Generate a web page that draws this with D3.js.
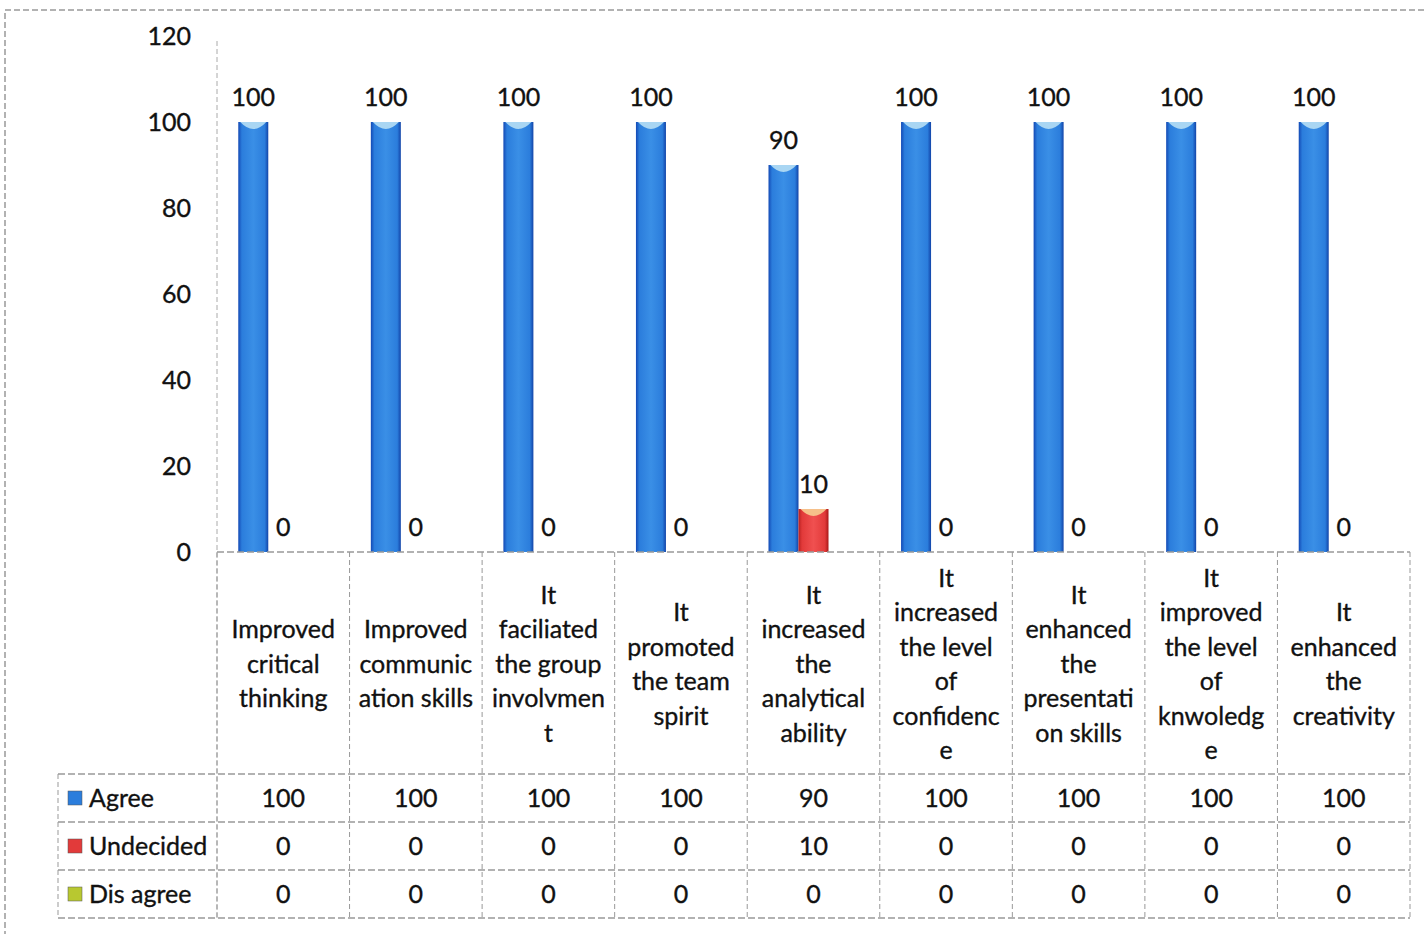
<!DOCTYPE html>
<html>
<head>
<meta charset="utf-8">
<script src="https://cdn.jsdelivr.net/npm/d3@7"></script>
<style>
  html, body { margin: 0; padding: 0; background: #fff; }
  svg { display: block; }
  text { font-family: Lato, "Open Sans", sans-serif; fill: #111; stroke: #111; stroke-width: 0.35px; }
</style>
</head>
<body>
<svg id="chart" width="1425" height="934"></svg>
<script>
// ---- data ----
const categories = [
  "Improved critical thinking",
  "Improved communication skills",
  "It faciliated the group involvment",
  "It promoted the team spirit",
  "It increased the analytical ability",
  "It increased the level of confidence",
  "It enhanced the presentation skills",
  "It improved the level of knwoledge",
  "It enhanced the creativity"
];
const categoryLines = [
  ["Improved", "critical", "thinking"],
  ["Improved", "communic", "ation skills"],
  ["It", "faciliated", "the group", "involvmen", "t"],
  ["It", "promoted", "the team", "spirit"],
  ["It", "increased", "the", "analytical", "ability"],
  ["It", "increased", "the level", "of", "confidenc", "e"],
  ["It", "enhanced", "the", "presentati", "on skills"],
  ["It", "improved", "the level", "of", "knwoledg", "e"],
  ["It", "enhanced", "the", "creativity"]
];
const seriesNames = ["Agree", "Undecided", "Dis agree"];
const agree     = [100, 100, 100, 100, 90, 100, 100, 100, 100];
const undecided = [0, 0, 0, 0, 10, 0, 0, 0, 0];
const disagree  = [0, 0, 0, 0, 0, 0, 0, 0, 0];
const yTicks = [0, 20, 40, 60, 80, 100, 120];

const seriesValues = [agree, undecided, disagree];

// ---- layout ----
const svg = d3.select("#chart");
const plotLeft = 217, plotRight = 1410;
const y0 = 552, yTop = 36;
const catRowBottom = 774;
const rowH = 48;
const legendLeft = 58;
const fs = "25px";

const x = d3.scaleBand().domain(d3.range(categories.length)).range([plotLeft, plotRight]);
const xs = d3.scaleBand().domain(d3.range(seriesNames.length)).range([0, 90]);
const xOff = (x.bandwidth() - 90) / 2;
const y = d3.scaleLinear().domain([0, 120]).range([y0, yTop]);

// gradients
const defs = svg.append("defs");
function hgrad(id, stops) {
  const g = defs.append("linearGradient").attr("id", id).attr("x1", "0").attr("x2", "1").attr("y1", "0").attr("y2", "0");
  stops.forEach(s => g.append("stop").attr("offset", s[0]).attr("stop-color", s[1]));
}
hgrad("gBlue", [[0, "#1349b5"], [0.12, "#2b7ddc"], [0.5, "#3a8fe6"], [0.88, "#2b7ddc"], [1, "#1244a8"]]);
hgrad("gRed", [[0, "#b82020"], [0.12, "#e23a3a"], [0.5, "#f05050"], [0.88, "#e23a3a"], [1, "#a81818"]]);
hgrad("gGreen", [[0, "#8a9a10"], [0.15, "#b8c830"], [0.5, "#d0dc40"], [0.85, "#b8c830"], [1, "#7a8a10"]]);
const fills = ["url(#gBlue)", "url(#gRed)", "url(#gGreen)"];
const tops = ["#a9d6f3", "#f6c08a", "#eef08a"];
const keyFills = ["#2b7ddc", "#e23a3a", "#b8c830"];

// outer border
svg.append("path").attr("d", "M5,1000 L5,10 L1425,10")
  .attr("fill", "none").attr("stroke", "#999").attr("stroke-width", 1.5).attr("stroke-dasharray", "6,3");

// y axis
svg.append("line").attr("x1", plotLeft).attr("x2", plotLeft).attr("y1", yTop + 5).attr("y2", 920)
  .attr("stroke", "#aaa").attr("stroke-dasharray", "5,3");
const yAxis = d3.axisLeft(y).tickValues(yTicks).tickSize(0).tickPadding(26);
const yg = svg.append("g").attr("transform", `translate(${plotLeft},0)`).call(yAxis);
yg.select(".domain").remove();
yg.selectAll("text").style("font-size", fs).style("font-family", "Lato, 'Open Sans', sans-serif").attr("fill", "#111");

// bars
seriesValues.forEach((vals, si) => {
  const g = svg.append("g");
  vals.forEach((v, ci) => {
    const bx = x(ci) + xOff + xs(si);
    const bw = xs.bandwidth();
    if (v > 0) {
      g.append("rect").attr("x", bx).attr("y", y(v)).attr("width", bw).attr("height", y0 - y(v))
        .attr("fill", fills[si]);
      g.append("path")
        .attr("d", `M${bx + 2},${y(v)} Q${bx + bw / 2},${y(v) + 14} ${bx + bw - 2},${y(v)} Z`)
        .attr("fill", tops[si]);
    }
  });
});

// value labels (Agree and Undecided)
[0, 1].forEach(si => {
  seriesValues[si].forEach((v, ci) => {
    const cx = x(ci) + xOff + xs(si) + xs.bandwidth() / 2;
    svg.append("text").attr("x", cx).attr("y", y(v) - 16)
      .attr("text-anchor", "middle").style("font-size", fs).text(v);
  });
});

// table grid
const gridStroke = "#999";
const tableBottom = catRowBottom + rowH * 3;
svg.append("line").attr("x1", plotLeft).attr("x2", plotRight).attr("y1", y0).attr("y2", y0)
  .attr("stroke", gridStroke).attr("stroke-width", 1.5).attr("stroke-dasharray", "7,3");
d3.range(categories.length + 1).forEach(i => {
  const xx = i < categories.length ? x(i) : plotRight;
  svg.append("line").attr("x1", xx).attr("x2", xx).attr("y1", y0).attr("y2", tableBottom)
    .attr("stroke", gridStroke).attr("stroke-dasharray", "5,3");
});
svg.append("line").attr("x1", legendLeft).attr("x2", legendLeft).attr("y1", catRowBottom).attr("y2", tableBottom)
  .attr("stroke", gridStroke).attr("stroke-dasharray", "5,3");
d3.range(4).forEach(r => {
  const yy = catRowBottom + r * rowH;
  svg.append("line").attr("x1", legendLeft).attr("x2", plotRight).attr("y1", yy).attr("y2", yy)
    .attr("stroke", gridStroke).attr("stroke-width", 1.5).attr("stroke-dasharray", "7,3");
});

// category labels
const lineH = 34.5;
categoryLines.forEach((lines, ci) => {
  const cx = x(ci) + x.bandwidth() / 2;
  const mid = (y0 + catRowBottom) / 2 + 1;
  const startY = mid - (lines.length - 1) * lineH / 2;
  const t = svg.append("text").attr("text-anchor", "middle").style("font-size", fs);
  lines.forEach((ln, li) => {
    t.append("tspan").attr("x", cx).attr("y", startY + li * lineH).attr("dy", "0.35em").text(ln);
  });
});

// table rows
seriesNames.forEach((name, si) => {
  const cy = catRowBottom + si * rowH + rowH / 2;
  svg.append("rect").attr("x", legendLeft + 10).attr("y", cy - 7).attr("width", 14).attr("height", 14)
    .attr("fill", keyFills[si]).attr("stroke", "#555").attr("stroke-width", 0.5);
  svg.append("text").attr("x", legendLeft + 31).attr("y", cy).attr("dy", "0.35em")
    .style("font-size", fs).text(name);
  seriesValues[si].forEach((v, ci) => {
    svg.append("text").attr("x", x(ci) + x.bandwidth() / 2).attr("y", cy).attr("dy", "0.35em")
      .attr("text-anchor", "middle").style("font-size", fs).text(v);
  });
});
</script>
</body>
</html>
